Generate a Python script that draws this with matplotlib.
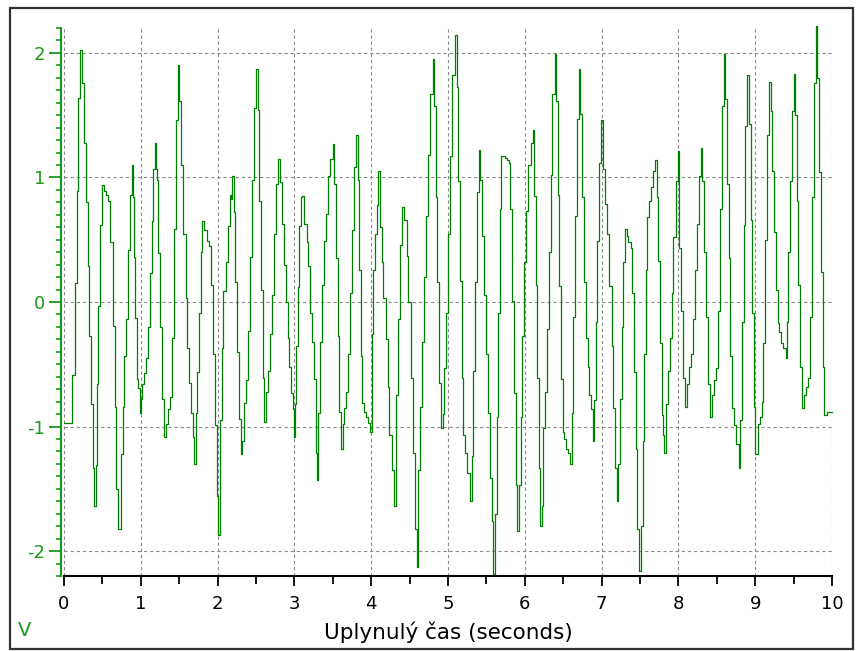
import numpy as np
import matplotlib.pyplot as plt
from matplotlib.patches import Rectangle
from matplotlib.ticker import MultipleLocator

plt.rcParams["axes.unicode_minus"] = False

# sampled voltage trace, one list per second of recording
t_s = [
    0.00, 0.10, 0.108, 0.138, 0.164, 0.185, 0.207, 0.228, 0.259, 0.289, 0.306, 0.328, 0.353, 0.375, 0.397,
    0.418, 0.435, 0.448, 0.47, 0.491, 0.517, 0.547, 0.573, 0.603, 0.634, 0.659, 0.681, 0.705,
    0.737, 0.763, 0.784, 0.81, 0.832, 0.858, 0.879, 0.897, 0.909, 0.927, 0.948, 0.97, 0.987,
    1.0, 1.02, 1.047, 1.069, 1.091, 1.116, 1.142, 1.159, 1.185, 1.198, 1.207, 1.228, 1.254, 1.276, 1.306,
    1.328, 1.354, 1.38, 1.406, 1.432, 1.458, 1.489, 1.497, 1.519, 1.545, 1.584, 1.606, 1.632, 1.654, 1.675, 1.697,
    1.714, 1.736, 1.758, 1.78, 1.801, 1.827, 1.858, 1.888, 1.914, 1.940, 1.966, 1.992,
    2.01, 2.031, 2.053, 2.075, 2.105, 2.131, 2.157, 2.178, 2.19, 2.209, 2.23, 2.253, 2.279, 2.30,
    2.322, 2.344, 2.365, 2.391, 2.418, 2.444, 2.469, 2.5, 2.522, 2.539, 2.565, 2.587, 2.608,
    2.63, 2.656, 2.682, 2.708, 2.734, 2.76, 2.791, 2.812, 2.834, 2.86, 2.886, 2.912, 2.934, 2.956, 2.977,
    3.0, 3.012, 3.025, 3.043, 3.064, 3.086, 3.103, 3.129, 3.16, 3.181, 3.207, 3.233, 3.255, 3.277, 3.29,
    3.311, 3.333, 3.355, 3.385, 3.411, 3.433, 3.464, 3.498, 3.516, 3.537, 3.563, 3.585, 3.607,
    3.629, 3.651, 3.672, 3.703, 3.729, 3.755, 3.776, 3.806, 3.824, 3.841, 3.863, 3.885, 3.911, 3.932, 3.954, 3.984,
    4.006, 4.027, 4.049, 4.071, 4.093, 4.115, 4.137, 4.158, 4.189, 4.215, 4.237, 4.267, 4.302,
    4.327, 4.353, 4.375, 4.405, 4.431, 4.462, 4.483, 4.518, 4.548, 4.57, 4.592,
    4.614, 4.635, 4.657, 4.683, 4.709, 4.735, 4.766, 4.809, 4.822, 4.839, 4.861, 4.883, 4.909,
    4.931, 4.953, 4.974, 5.005, 5.026, 5.057, 5.091, 5.113, 5.135, 5.156, 5.178, 5.2, 5.221, 5.252, 5.286,
    5.308, 5.33, 5.352, 5.373, 5.399, 5.417, 5.439, 5.465, 5.491, 5.517, 5.543, 5.569, 5.59,
    5.612, 5.634, 5.655, 5.677, 5.69, 5.742, 5.764, 5.794, 5.807, 5.829, 5.859, 5.881, 5.903,
    5.924, 5.946, 5.968, 5.99, 6.016, 6.046, 6.081, 6.111, 6.124, 6.141, 6.163, 6.185, 6.198,
    6.22, 6.241, 6.263, 6.285, 6.311, 6.337, 6.359, 6.393, 6.406, 6.428, 6.445, 6.467, 6.493, 6.515, 6.536, 6.567, 6.593,
    6.61, 6.632, 6.654, 6.676, 6.701, 6.719, 6.741, 6.767, 6.793, 6.819, 6.84, 6.862, 6.884,
    6.905, 6.923, 6.944, 6.962, 6.988, 6.997, 7.014, 7.044, 7.075, 7.101, 7.131, 7.153, 7.174, 7.196,
    7.218, 7.24, 7.262, 7.283, 7.305, 7.327, 7.349, 7.383, 7.401, 7.422, 7.444, 7.466, 7.487,
    7.513, 7.535, 7.557, 7.574, 7.596, 7.622, 7.643, 7.665, 7.695, 7.717, 7.738, 7.76, 7.782, 7.804, 7.817,
    7.834, 7.86, 7.886, 7.912, 7.934, 7.965, 7.991, 8.008, 8.034, 8.06, 8.086,
    8.112, 8.138, 8.164, 8.186, 8.212, 8.238, 8.263, 8.294, 8.312, 8.338, 8.359, 8.381, 8.407,
    8.433, 8.459, 8.485, 8.511, 8.537, 8.563, 8.589, 8.607, 8.628, 8.654, 8.676, 8.702, 8.728, 8.754, 8.789,
    8.806, 8.828, 8.85, 8.872, 8.898, 8.919, 8.941, 8.963, 8.985, 9.002,
    9.019, 9.041, 9.063, 9.084, 9.106, 9.128, 9.154, 9.184, 9.201, 9.223, 9.249, 9.271, 9.293, 9.315, 9.336, 9.362, 9.397,
    9.414, 9.431, 9.449, 9.475, 9.501, 9.518, 9.54, 9.562, 9.583, 9.605,
    9.631, 9.657, 9.683, 9.709, 9.735, 9.761, 9.787, 9.805, 9.831, 9.857, 9.888, 9.897, 9.931, 10.0,
]
volts = [
    -0.97, -0.97, -0.59, 0.15, 0.89, 1.64, 2.02, 1.76, 1.28, 0.80, 0.29, -0.27, -0.82, -1.33, -1.64,
    -1.31, -0.66, -0.03, 0.62, 0.94, 0.89, 0.86, 0.81, 0.48, -0.19, -0.84, -1.50, -1.82,
    -1.22, -0.84, -0.43, -0.14, 0.42, 0.86, 1.10, 0.84, 0.36, -0.13, -0.62, -0.69, -0.89,
    -0.78, -0.66, -0.57, -0.45, -0.20, 0.23, 0.65, 1.07, 1.28, 1.07, 0.98, 0.39, -0.20, -0.78, -1.08,
    -0.98, -0.86, -0.76, -0.29, 0.59, 1.46, 1.90, 1.61, 1.10, 0.55, 0.03, -0.37, -0.65, -0.89, -1.08, -1.30,
    -0.89, -0.56, -0.09, 0.40, 0.65, 0.58, 0.49, 0.45, 0.14, -0.42, -0.99, -1.56,
    -1.87, -0.95, -0.37, 0.09, 0.32, 0.61, 0.86, 0.83, 1.01, 0.72, 0.16, -0.40, -0.94, -1.22,
    -1.12, -0.81, -0.63, -0.23, 0.36, 0.98, 1.56, 1.87, 1.54, 0.81, 0.10, -0.61, -0.96,
    -0.72, -0.55, -0.26, 0.06, 0.55, 0.95, 1.15, 0.96, 0.63, 0.30, 0.00, -0.29, -0.52, -0.73, -0.86,
    -1.08, -0.82, -0.35, 0.12, 0.61, 0.84, 0.85, 0.63, 0.48, 0.29, -0.09, -0.32, -0.62, -1.21, -1.43,
    -0.89, -0.32, 0.14, 0.49, 0.71, 1.01, 1.15, 1.27, 0.95, 0.35, -0.27, -0.88, -1.18,
    -0.98, -0.85, -0.72, -0.42, 0.07, 0.58, 1.08, 1.34, 0.98, 0.26, -0.43, -0.81, -0.88, -0.92, -0.97, -1.04,
    -0.26, 0.26, 0.55, 0.78, 1.05, 0.60, 0.32, 0.03, -0.30, -0.68, -1.07, -1.35, -1.64,
    -0.75, -0.14, 0.46, 0.76, 0.66, 0.37, 0.00, -0.61, -1.21, -1.82, -2.13,
    -1.35, -0.84, -0.32, 0.20, 0.69, 1.18, 1.67, 1.95, 1.57, 0.84, 0.16, -0.65, -1.01,
    -0.90, -0.53, -0.09, 0.55, 1.17, 1.82, 2.14, 1.73, 0.97, 0.17, -0.61, -1.07, -1.21, -1.37, -1.60,
    -1.24, -0.55, 0.16, 0.88, 1.22, 0.98, 0.53, 0.06, -0.42, -0.89, -1.41, -1.76, -2.18,
    -1.70, -0.92, -0.09, 0.75, 1.17, 1.16, 1.14, 1.12, 0.75, 0.01, -0.73, -1.47, -1.84,
    -1.47, -0.92, -0.27, 0.32, 0.73, 1.10, 1.28, 1.38, 0.85, 0.14, -0.61, -1.33, -1.80,
    -1.64, -1.01, -0.72, -0.22, 0.40, 1.02, 1.67, 1.99, 1.61, 0.86, 0.13, -0.62, -1.04, -1.10, -1.18, -1.21, -1.30,
    -0.89, -0.12, 0.69, 1.47, 1.87, 1.51, 0.84, 0.16, -0.29, -0.52, -0.75, -0.86, -1.12,
    -0.79, -0.16, 0.49, 1.12, 1.30, 1.46, 1.07, 0.79, 0.55, 0.13, -0.35, -0.85, -1.33, -1.60,
    -1.30, -0.78, -0.20, 0.32, 0.59, 0.53, 0.48, 0.43, 0.07, -0.56, -1.18, -1.82, -2.16,
    -1.80, -1.12, -0.42, 0.26, 0.68, 0.81, 0.92, 1.05, 1.14, 0.84, 0.33, -0.33, -0.91, -1.07, -1.21,
    -0.82, -0.55, -0.29, 0.07, 0.52, 0.97, 1.21, 0.43, -0.07, -0.61, -0.84,
    -0.66, -0.52, -0.42, -0.14, 0.26, 0.63, 1.01, 1.24, 0.97, 0.40, -0.12, -0.66, -0.92,
    -0.75, -0.63, -0.53, -0.07, 0.75, 1.57, 1.99, 1.63, 0.95, 0.35, -0.43, -0.85, -0.99, -1.14, -1.33,
    -0.95, -0.16, 0.62, 1.41, 1.82, 1.43, 0.66, -0.09, -0.84, -1.22,
    -1.22, -0.98, -0.92, -0.80, -0.33, 0.50, 1.34, 1.77, 1.53, 1.05, 0.56, 0.10, -0.17, -0.24, -0.33, -0.37, -0.45,
    -0.16, 0.40, 0.97, 1.53, 1.83, 1.50, 0.81, 0.14, -0.52, -0.85,
    -0.75, -0.68, -0.61, -0.12, 0.84, 1.76, 2.22, 1.80, 1.04, 0.24, -0.52, -0.91, -0.88, -0.88,
]

x_ticks = list(range(0, 11))
y_ticks = [-2, -1, 0, 1, 2]

W, H = 857, 651
fig = plt.figure(figsize=(W / 100, H / 100), dpi=100)
fig.patch.set_facecolor("white")

# plot area in pixels: x 64..832, y 28..576
ax = fig.add_axes([64 / W, (H - 576) / H, 768 / W, 548 / H])
ax.step(t_s, volts, where="post", color="#008000", lw=0.9, clip_on=False, zorder=3)

ax.set_xlim(0, 10)
ax.set_ylim(-2.2, 2.2)
ax.set_xticks(x_ticks)
ax.set_yticks(y_ticks)
ax.xaxis.set_minor_locator(MultipleLocator(0.5))
ax.yaxis.set_minor_locator(MultipleLocator(0.1))

ax.grid(True, which="major", color="#8c8c8c", linestyle=(0, (3, 2.5)), linewidth=0.8)
ax.set_axisbelow(True)

for s in ("top", "right"):
    ax.spines[s].set_visible(False)
ax.spines["bottom"].set_color("black")
ax.spines["bottom"].set_linewidth(1.5)
ax.spines["left"].set_color("#1a9a1a")
ax.spines["left"].set_linewidth(1.5)
ax.spines["left"].set_position(("outward", 2))

ax.tick_params(axis="x", which="major", direction="out", length=7.5, width=1.3,
               color="black", labelsize=13, labelcolor="black", pad=6)
ax.tick_params(axis="x", which="minor", direction="out", length=5.5, width=1.3, color="black")
ax.tick_params(axis="y", which="major", direction="out", length=8.5, width=1.3,
               color="#1a9a1a", labelsize=13, labelcolor="#1a9a1a", pad=3)
ax.tick_params(axis="y", which="minor", direction="out", length=3.8, width=1.2, color="#1a9a1a")

fig.text(448 / W, 1 - 632 / H, "Uplynulý čas (seconds)", ha="center", va="center",
         fontsize=15.5, color="black")
fig.text(25 / W, 1 - 631 / H, "V", ha="center", va="center", fontsize=14, color="#1a9a1a")

# outer frame
fig.add_artist(Rectangle((10 / W, 1 - 649 / H), 843 / W, 641 / H, transform=fig.transFigure,
                         fill=False, edgecolor="#333333", linewidth=1.6))

fig.savefig("out.png", dpi=100)
